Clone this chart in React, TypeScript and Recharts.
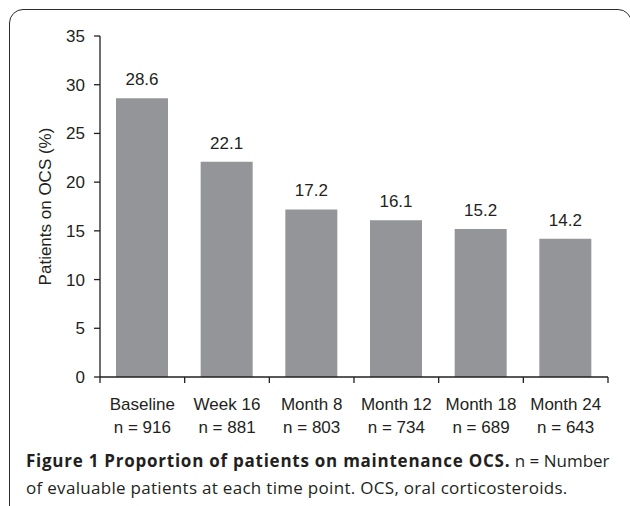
import React from 'react';
import { BarChart, Bar, XAxis, YAxis, LabelList } from 'recharts';

const categories = ['Baseline', 'Week 16', 'Month 8', 'Month 12', 'Month 18', 'Month 24'];
const percentOnOCS = [28.6, 22.1, 17.2, 16.1, 15.2, 14.2];
const patientCounts = [916, 881, 803, 734, 689, 643];
const yTicks = [0, 5, 10, 15, 20, 25, 30, 35];

const data = categories.map((c, i) => ({ name: c, value: percentOnOCS[i], n: patientCounts[i] }));

const INK = '#231f20';
const FONT = '"Liberation Sans", Arial, Helvetica, sans-serif';

const XTick = (props: any) => {
  const { x, y, payload } = props;
  const half = typeof payload.offset === 'number' && payload.offset > 0 ? payload.offset : 42.33;
  const i = categories.indexOf(payload.value);
  return (
    <g>
      <line x1={x - half} x2={x - half} y1={y} y2={y + 6} stroke={INK} strokeWidth={1.3} />
      {i === categories.length - 1 && (
        <line x1={x + half} x2={x + half} y1={y} y2={y + 6} stroke={INK} strokeWidth={1.3} />
      )}
      <text x={x} y={y + 33} textAnchor="middle" fontSize={17} fill={INK} fontFamily={FONT}>
        {payload.value}
      </text>
      <text x={x} y={y + 56} textAnchor="middle" fontSize={17} fill={INK} fontFamily={FONT}>
        {`n = ${patientCounts[i]}`}
      </text>
    </g>
  );
};

const YLabel = (props: any) => {
  const vb = props.viewBox || {};
  const cy = (vb.y ?? 36) + (vb.height ?? 341) / 2;
  const cx = 45;
  return (
    <text
      x={cx}
      y={cy}
      transform={`rotate(-90, ${cx}, ${cy})`}
      textAnchor="middle"
      dominantBaseline="central"
      fontSize={17}
      fill={INK}
      fontFamily={FONT}
    >
      Patients on OCS (%)
    </text>
  );
};

export default function App() {
  return (
    <div style={{ position: 'absolute', left: 0, top: 0, width: 630, height: 506, overflow: 'hidden', background: '#fff' }}>
      <div
        style={{
          position: 'absolute',
          left: 9,
          top: 9,
          width: 623,
          height: 520,
          border: `1.6px solid #2b2b2b`,
          borderRadius: 14,
          boxSizing: 'border-box',
        }}
      />
      <div style={{ position: 'absolute', left: 0, top: 0 }}>
        <BarChart
          width={630}
          height={440}
          data={data}
          margin={{ top: 36, right: 22, bottom: 0, left: 0 }}
          barSize={52}
        >
          <XAxis
            dataKey="name"
            height={63}
            tickSize={0}
            tickMargin={0}
            tickLine={false}
            axisLine={{ stroke: INK, strokeWidth: 1.3 }}
            tick={<XTick />}
            interval={0}
          />
          <YAxis
            width={100}
            domain={[0, 35]}
            ticks={yTicks}
            interval={0}
            tickSize={6}
            tickMargin={9}
            axisLine={{ stroke: INK, strokeWidth: 1.3 }}
            tickLine={{ stroke: INK, strokeWidth: 1.3 }}
            tick={{ fontSize: 17, fill: INK, fontFamily: FONT }}
            label={<YLabel />}
          />
          <Bar dataKey="value" fill="#939598" isAnimationActive={false}>
            <LabelList
              dataKey="value"
              position="top"
              offset={13}
              fontSize={17}
              fill={INK}
              fontFamily={FONT}
              formatter={(v: any) => Number(v).toFixed(1)}
            />
          </Bar>
        </BarChart>
      </div>
      <div
        style={{
          position: 'absolute',
          left: 26,
          top: 447,
          fontFamily: '"Open Sans", "Noto Sans", sans-serif',
          fontSize: 17,
          lineHeight: '27px',
          color: INK,
          whiteSpace: 'nowrap',
        }}
      >
        <div>
          <span style={{ fontWeight: 700, letterSpacing: 0.75 }}>Figure 1 Proportion of patients on maintenance OCS.</span> n = Number
        </div>
        <div style={{ letterSpacing: 0.3 }}>of evaluable patients at each time point. OCS, oral corticosteroids.</div>
      </div>
    </div>
  );
}
